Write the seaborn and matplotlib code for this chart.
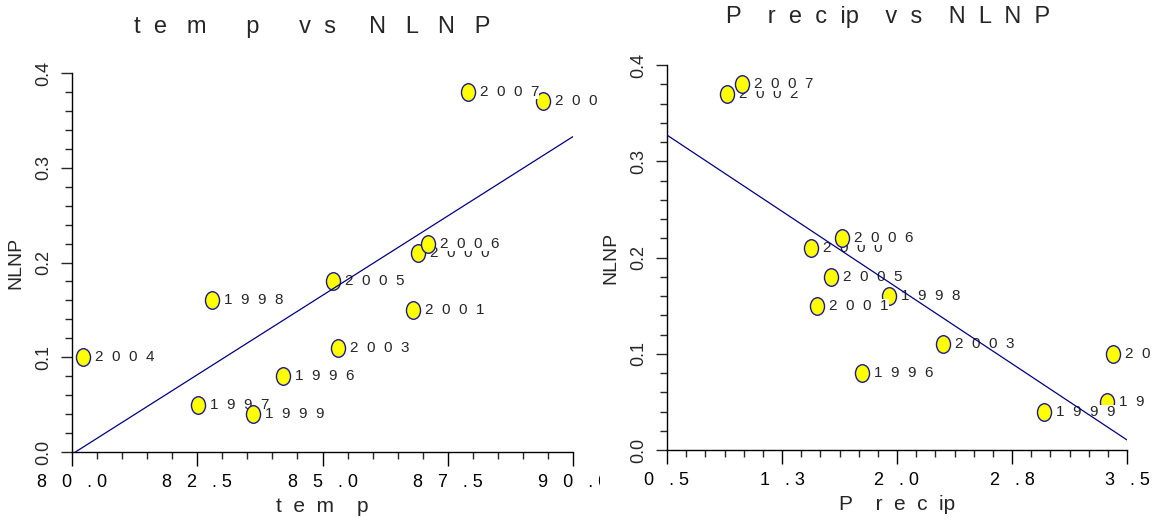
import numpy as np
import pandas as pd
import seaborn as sns
import matplotlib
matplotlib.use("Agg")
import matplotlib.pyplot as plt
from matplotlib.markers import MarkerStyle
from matplotlib.transforms import Affine2D, Bbox, TransformedBbox
from matplotlib.ticker import MultipleLocator

# values
years = [1996, 1997, 1998, 1999, 2000, 2001, 2002, 2003, 2004, 2005, 2006, 2007]
temp = [84.22, 82.52, 82.8, 83.62, 86.9, 86.8, 89.4, 85.3, 80.22, 85.2, 87.1, 87.9]
precip = [1.77, 3.37, 1.95, 2.96, 1.44, 1.48, 0.89, 2.30, 3.41, 1.57, 1.64, 0.99]
nlnp = [0.08, 0.05, 0.16, 0.04, 0.21, 0.15, 0.37, 0.11, 0.10, 0.18, 0.22, 0.38]

temp_ticks = [80.0, 82.5, 85.0, 87.5, 90.0]
temp_ticklabels = ["8   0   . 0", "8   2   . 5", "8   5   . 0", "8   7   . 5", "9   0   . 0"]
precip_ticks = [0.5, 1.25, 2.0, 2.75, 3.5]
precip_ticklabels = ["0   . 5", "1   . 3", "2   . 0", "2   . 8", "3   . 5"]

df = pd.DataFrame({"year": years, "temp": temp, "precip": precip, "NLNP": nlnp})

sns.set_style("ticks")
plt.rcParams["font.family"] = ["Liberation Sans", "DejaVu Sans"]

W, H = 1152, 521
fig = plt.figure(figsize=(W / 100, H / 100), dpi=100)
ax1 = fig.add_axes([72 / W, 69 / H, 501 / W, 379 / H])
ax2 = fig.add_axes([667 / W, 71 / H, 460 / W, 385 / H])

oval = MarkerStyle("o", transform=Affine2D().scale(0.8, 1.0))
navy = "#1a1a8c"

# left panel contents get cut at the panel edge like in the original
clip_left = TransformedBbox(Bbox([[0, 0], [600 / W, 1]]), fig.transFigure)


def panel(ax, xcol, xlim, ticks, ticklabels, minor, title, title_y, xlabel, clip=None):
    ax.set_xlim(*xlim)
    ax.set_ylim(0, 0.4)
    # one point at a time so later labels sit on top of earlier ones
    for i, row in df.iterrows():
        sns.scatterplot(x=[row[xcol]], y=[row["NLNP"]], ax=ax, marker=oval, s=160,
                        color="#ffff00", edgecolor=navy, linewidth=1.0,
                        zorder=3 + 2 * i, clip_on=False, legend=False)
        dx = (xlim[1] - xlim[0]) * 12 / ax.bbox.width
        t = ax.text(row[xcol] + dx, row["NLNP"], "  ".join(str(int(row["year"]))),
                    fontsize=11, ha="left", va="center", zorder=4 + 2 * i,
                    bbox=dict(facecolor="white", edgecolor="none", pad=0))
        if clip is not None:
            t.set_clip_box(clip)
            t.set_clip_on(True)
    sns.regplot(data=df, x=xcol, y="NLNP", ax=ax, scatter=False, ci=None, truncate=False,
                line_kws=dict(color="#000080", linewidth=0.9, zorder=50))
    ax.set_xlim(*xlim)
    ax.set_ylim(0, 0.4)
    ax.set_xticks(ticks)
    ax.set_xticklabels(ticklabels, fontsize=13)
    ax.xaxis.set_minor_locator(MultipleLocator(minor))
    ax.set_yticks([0.0, 0.1, 0.2, 0.3, 0.4])
    ax.set_yticklabels(["0.0", "0.1", "0.2", "0.3", "0.4"], fontsize=13,
                       rotation=90, va="center")
    ax.yaxis.set_minor_locator(MultipleLocator(0.02))
    ax.tick_params(axis="x", which="major", length=10, width=1, pad=6, colors="black")
    ax.tick_params(axis="x", which="minor", length=5, width=1)
    ax.tick_params(axis="y", which="major", length=8, width=1, pad=6)
    ax.tick_params(axis="y", which="minor", length=5, width=1)
    for s in ["top", "right"]:
        ax.spines[s].set_visible(False)
    for s in ["left", "bottom"]:
        ax.spines[s].set_color("black")
        ax.spines[s].set_linewidth(1)
    ax.set_xlabel(xlabel, fontsize=15, labelpad=4)
    ax.set_ylabel("NLNP", fontsize=14, labelpad=8)
    ax.set_title(title, fontsize=17, x=0.48, y=title_y, pad=0, va="center")
    if clip is not None:
        for lbl in ax.get_xticklabels():
            lbl.set_clip_box(clip)
            lbl.set_clip_on(True)


panel(ax1, "temp", (80, 90), temp_ticks, temp_ticklabels, 0.5,
      "t  e   m      p      v  s     N   L   N   P", 1 + 46 / 379, "t  e  m    p", clip=clip_left)
panel(ax2, "precip", (0.5, 3.5), precip_ticks, precip_ticklabels, 0.125,
      "P    r  e  c  ip    v  s    N  L  N  P", 1 + 48 / 385, "P    r  e  c  ip")

fig.savefig("out.png", dpi=100)
